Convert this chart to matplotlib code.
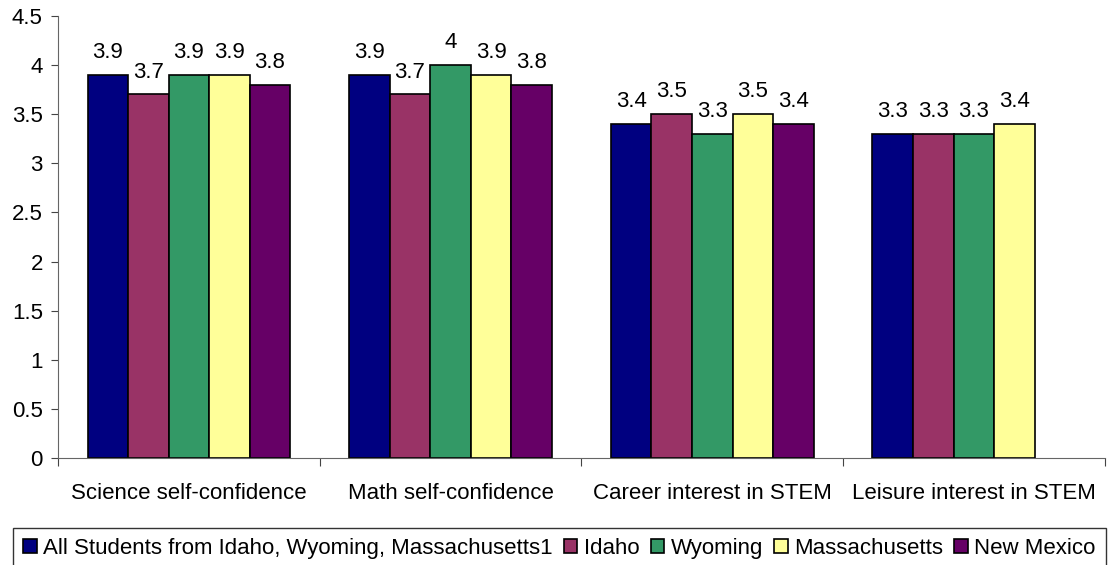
import numpy as np
import matplotlib.pyplot as plt

plt.rcParams['font.family'] = ['Liberation Sans', 'DejaVu Sans']

categories = ["Science self-confidence", "Math self-confidence",
              "Career interest in STEM", "Leisure interest in STEM"]
series = ["All Students from Idaho, Wyoming, Massachusetts1", "Idaho",
          "Wyoming", "Massachusetts", "New Mexico"]
all_students = [3.9, 3.9, 3.4, 3.3]
idaho = [3.7, 3.7, 3.5, 3.3]
wyoming = [3.9, 4.0, 3.3, 3.3]
massachusetts = [3.9, 3.9, 3.5, 3.4]
new_mexico = [3.8, 3.8, 3.4, np.nan]
colors = ["#000080", "#993366", "#339966", "#FFFF99", "#660066"]

values = [all_students, idaho, wyoming, massachusetts, new_mexico]

fig = plt.figure(figsize=(11.17, 5.65), dpi=100)
ax = fig.add_axes([0.052, 0.189, 0.937, 0.783])

x = np.arange(len(categories))
w = 0.155
for i, (name, vals, c) in enumerate(zip(series, values, colors)):
    pos = x + (i - 2) * w
    ax.bar(pos, vals, w, color=c, edgecolor='black', linewidth=1.2, label=name)
    for p, v in zip(pos, vals):
        if not np.isnan(v):
            ax.text(p, v + 0.12, f"{v:g}", ha='center', va='bottom', fontsize=16)

ax.set_xlim(-0.5, len(categories) - 0.5)
ax.set_ylim(0, 4.5)
ax.set_yticks(np.arange(0, 4.51, 0.5))
ax.set_yticklabels([f"{t:g}" for t in np.arange(0, 4.51, 0.5)], fontsize=16)
ax.set_xticks(np.arange(-0.5, len(categories), 1))
ax.set_xticklabels([])
ax.set_xticks(x, minor=True)
ax.set_xticklabels(categories, minor=True, fontsize=16)
ax.tick_params(axis='x', which='minor', length=0, pad=18)
ax.tick_params(axis='x', which='major', length=6, direction='out', color='#444444')
ax.tick_params(axis='y', length=5, direction='out', color='#444444', pad=6)
for s in ['top', 'right']:
    ax.spines[s].set_visible(False)
for s in ['left', 'bottom']:
    ax.spines[s].set_color('#666666')

leg = fig.legend(loc='center left', bbox_to_anchor=(0.012, 0.03), ncol=5,
                 fontsize=16, frameon=True, fancybox=False, edgecolor='black',
                 handlelength=0.6, handleheight=0.6, handletextpad=0.3,
                 columnspacing=0.5, borderpad=0.45, borderaxespad=0)
leg.get_frame().set_linewidth(1.0)

fig.savefig("out.png", dpi=100)
